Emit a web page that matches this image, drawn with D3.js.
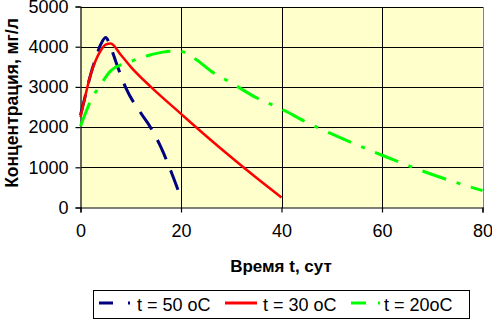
<!DOCTYPE html>
<html>
    <head>
        <meta charset="utf-8">
        <script src="https://d3js.org/d3.v7.min.js"></script>
        <style>
        body {margin: 0; background: white;}
        </style>
    </head>
    <body>
        <div id="chart"></div>
        <script>
            // t = 50 oC
            var days50 = [0, 1, 2, 3, 4, 5, 6, 7, 9, 12, 14, 16, 18, 20];
            var conc50 = [2300, 2800, 3300, 3700, 4050, 4230, 3990, 3640, 2980, 2350, 1980, 1500, 900, 230];
            // t = 30 oC
            var days30 = [0, 1, 2, 3, 4, 5, 6, 8, 10, 14, 20, 25, 30, 35, 40];
            var conc30 = [2250, 2800, 3300, 3650, 3900, 4050, 4080, 3800, 3500, 3000, 2330, 1780, 1250, 740, 250];
            // t = 20oC
            var days20 = [0, 1, 2, 4, 6, 10, 14, 18, 20, 23, 26, 30, 35, 40, 45, 50, 60, 70, 80];
            var conc20 = [2020, 2350, 2650, 3050, 3400, 3630, 3800, 3890, 3880, 3680, 3390, 3100, 2730, 2450, 2120, 1830, 1300, 820, 420];

            var xTicks = [0, 20, 40, 60, 80];
            var yTicks = [0, 1000, 2000, 3000, 4000, 5000];
            var seriesNames = ["t = 50 oC", "t = 30 oC", "t = 20oC"];

            var series = [
                {name: seriesNames[0], x: days50, y: conc50, color: "#000080", width: 3, dash: "21,12", legendDash: "14,15,2,20"},
                {name: seriesNames[1], x: days30, y: conc30, color: "#FF0000", width: 2.5, dash: null, legendDash: null},
                {name: seriesNames[2], x: days20, y: conc20, color: "#00FF00", width: 3, dash: "25,11,4,11", legendDash: "15,12,2,20"}
            ];

            var FONT = "'Liberation Sans', Arial, sans-serif";
            var W = 492, H = 319;
            var x = d3.scaleLinear().domain([0, 80]).range([80.5, 482.5]);
            var y = d3.scaleLinear().domain([0, 5000]).range([207.5, 6.5]);

            var svg = d3.select("#chart")
                .append("svg")
                .attr("width", W)
                .attr("height", H)
                .attr("font-family", FONT);

            svg.append("rect") // plot area
                .attr("x", x(0))
                .attr("y", y(5000))
                .attr("width", x(80) - x(0))
                .attr("height", y(0) - y(5000))
                .attr("fill", "#FFFFCC");

            var grid = svg.append("g").attr("class", "gridlines"); // gridlines
            grid.selectAll("line.h")
                .data(yTicks.slice(1))
                .join("line")
                .attr("class", "h")
                .attr("x1", x(0)).attr("x2", x(80))
                .attr("y1", d => Math.round(y(d)) + 0.5)
                .attr("y2", d => Math.round(y(d)) + 0.5)
                .style("stroke", "#000")
                .style("stroke-width", "1.5px")
                .style("shape-rendering", "crispEdges");
            grid.selectAll("line.v")
                .data(xTicks.slice(1))
                .join("line")
                .attr("class", "v")
                .attr("x1", d => Math.round(x(d)) + 0.5)
                .attr("x2", d => Math.round(x(d)) + 0.5)
                .attr("y1", y(0)).attr("y2", y(5000))
                .style("stroke", d => d == 80 ? "#808080" : "#000")
                .style("stroke-width", "1.5px")
                .style("shape-rendering", "crispEdges");

            var yAxis = svg.append("g")
                .attr("transform", "translate(" + x(0) + ",0)")
                .call(d3.axisLeft(y).tickValues(yTicks).tickFormat(d3.format("d")).tickSize(5).tickPadding(8));
            var xAxis = svg.append("g")
                .attr("transform", "translate(0," + y(0) + ")")
                .call(d3.axisBottom(x).tickValues(xTicks).tickFormat(d3.format("d")).tickSize(5).tickPadding(8));
            [xAxis, yAxis].forEach(function(a) {
                a.attr("font-size", 18).attr("font-family", FONT);
                a.select(".domain").attr("stroke", "black").attr("stroke-width", 1.2);
                a.selectAll(".tick line").attr("stroke", "black").attr("stroke-width", 1.2);
                a.selectAll(".tick text").attr("fill", "black");
            });
            yAxis.selectAll(".tick text").attr("x", -12);
            xAxis.selectAll(".tick text").attr("dy", "0.9em");

            var line = d3.line()
                .x(d => x(d[0]))
                .y(d => y(d[1]))
                .curve(d3.curveMonotoneX);

            series.forEach(function(s) { // data lines
                svg.append("path")
                    .datum(s.x.map((d, i) => [d, s.y[i]]))
                    .attr("fill", "none")
                    .attr("stroke", s.color)
                    .attr("stroke-width", s.width)
                    .attr("stroke-dasharray", s.dash)
                    .attr("d", line);
            });

            svg.append("text") // x-label
                .attr("font-size", 17)
                .attr("font-weight", "bold")
                .attr("text-anchor", "middle")
                .attr("x", 281)
                .attr("y", 272)
                .text("Время t, сут");

            svg.append("text") // y-label
                .attr("font-size", 17.5)
                .attr("font-weight", "bold")
                .attr("text-anchor", "middle")
                .attr("transform", "translate(18,103) rotate(-90)")
                .text("Концентрация, мг/л");

            // legend
            var legend = svg.append("g");
            legend.append("rect")
                .attr("x", 93.5).attr("y", 290.5)
                .attr("width", 376).attr("height", 28)
                .attr("fill", "white")
                .attr("stroke", "black");
            var legendX = [99, 225, 351];
            var item = legend.selectAll(".item")
                .data(series)
                .enter()
                .append("g")
                .attr("transform", (d, i) => "translate(" + legendX[i] + ",303)");
            item.append("line")
                .attr("x1", 0).attr("x2", 32)
                .attr("stroke", d => d.color)
                .attr("stroke-width", 3)
                .attr("stroke-dasharray", d => d.legendDash);
            item.append("text")
                .attr("font-size", 18)
                .attr("x", (d, i) => i == 2 ? 33 : 38)
                .attr("y", 8)
                .text(d => d.name);
        </script>
    </body>
</html>
